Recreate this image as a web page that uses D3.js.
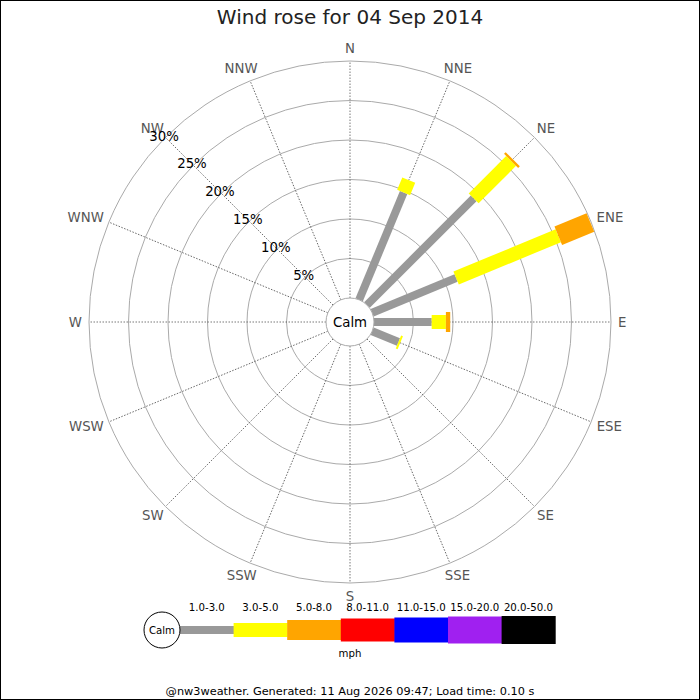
<!DOCTYPE html>
<html lang="en">

<head>
    <meta charset="UTF-8">
    <title>Wind rose</title>
    <script src="https://d3js.org/d3.v7.min.js"></script>
    <style>
        body { margin: 0; }
        text { font-family: "DejaVu Sans", sans-serif; }
    </style>
</head>

<body>
    <svg id="rose"></svg>

    <script>
        // compass points, clockwise from north
        var directions = ["N", "NNE", "NE", "ENE", "E", "ESE", "SE", "SSE",
            "S", "SSW", "SW", "WSW", "W", "WNW", "NW", "NNW"];

        // speed bins (mph) and their colours
        var speedBins = ["1.0-3.0", "3.0-5.0", "5.0-8.0", "8.0-11.0", "11.0-15.0", "15.0-20.0", "20.0-50.0"];
        var binColors = ["#999999", "#ffff00", "#ffa500", "#ff0000", "#0000ff", "#a020f0", "#000000"];

        // frequency (%) per direction, one array per speed bin
        var bin1 = [0, 14.7, 19.1, 11.5, 7.3, 3.6, 0, 0, 0, 0, 0, 0, 0, 0, 0, 0];
        var bin2 = [0, 1.7, 6.7, 14.0, 1.8, 0.25, 0, 0, 0, 0, 0, 0, 0, 0, 0, 0];
        var bin3 = [0, 0, 0.3, 4.4, 0.55, 0, 0, 0, 0, 0, 0, 0, 0, 0, 0, 0];
        var bin4 = [0, 0, 0, 0, 0, 0, 0, 0, 0, 0, 0, 0, 0, 0, 0, 0];
        var bin5 = [0, 0, 0, 0, 0, 0, 0, 0, 0, 0, 0, 0, 0, 0, 0, 0];
        var bin6 = [0, 0, 0, 0, 0, 0, 0, 0, 0, 0, 0, 0, 0, 0, 0, 0];
        var bin7 = [0, 0, 0, 0, 0, 0, 0, 0, 0, 0, 0, 0, 0, 0, 0, 0];
        var bins = [bin1, bin2, bin3, bin4, bin5, bin6, bin7];

        var ringTicks = [5, 10, 15, 20, 25, 30];

        var title = "Wind rose for 04 Sep 2014";
        var footer = "@nw3weather. Generated: 11 Aug 2026 09:47; Load time: 0.10 s";

        var W = 700, H = 700;
        var cx = 350, cy = 322;
        var calmR = 24, outerR = 261;
        var barWidths = [8, 14, 20, 23, 25, 27, 28];

        var svg = d3.select("#rose")
            .attr("width", W)
            .attr("height", H);

        svg.append("rect")
            .attr("x", 0.5).attr("y", 0.5)
            .attr("width", W - 1).attr("height", H - 1)
            .attr("fill", "white")
            .attr("stroke", "black");

        svg.append("text")
            .attr("x", cx).attr("y", 24)
            .attr("text-anchor", "middle")
            .style("font-size", "20px")
            .attr("fill", "#222")
            .text(title);

        var r = d3.scaleLinear().domain([0, 30]).range([calmR, outerR]);
        var angle = d3.scaleLinear().domain([0, 16]).range([0, 360]);

        var g = svg.append("g")
            .attr("transform", "translate(" + cx + "," + cy + ")");

        // rings
        g.selectAll(".ring")
            .data(ringTicks)
            .enter()
            .append("circle")
            .attr("r", function (d) { return r(d) })
            .attr("fill", "none")
            .attr("stroke", "#aaa")
            .attr("stroke-width", 1);

        // spokes
        g.selectAll(".spoke")
            .data(directions)
            .enter()
            .append("line")
            .attr("transform", function (d, i) { return "rotate(" + angle(i) + ")" })
            .attr("x1", 0).attr("y1", -calmR)
            .attr("x2", 0).attr("y2", -outerR)
            .attr("stroke", "#555")
            .attr("stroke-width", 0.8)
            .attr("stroke-dasharray", "1.5,1.5");

        // direction labels: box sits just outside the ring, pushed out along the spoke
        var labR = 268;
        g.selectAll(".dirLabel")
            .data(directions)
            .enter()
            .append("text")
            .attr("text-anchor", "middle")
            .attr("dominant-baseline", "central")
            .style("font-size", "13.3px")
            .attr("fill", "#555")
            .text(function (d) { return d })
            .each(function (d, i) {
                var a = angle(i) * Math.PI / 180;
                var bb = this.getBBox();
                var sx = Math.sin(a), cy_ = Math.cos(a);
                var px = labR * sx + (bb.width / 2) * sx;
                var py = -labR * cy_ - 6 * cy_;
                d3.select(this).attr("x", px).attr("y", py);
            });

        // stacked bars
        var segments = [];
        directions.forEach(function (dir, i) {
            var cum = 0;
            bins.forEach(function (b, k) {
                if (b[i] > 0) {
                    segments.push({ dir: i, bin: k, from: cum, to: cum + b[i] });
                }
                cum += b[i];
            });
        });

        g.selectAll(".seg")
            .data(segments)
            .enter()
            .append("rect")
            .attr("transform", function (d) { return "rotate(" + angle(d.dir) + ")" })
            .attr("x", function (d) { return -barWidths[d.bin] / 2 })
            .attr("y", function (d) { return -r(d.to) })
            .attr("width", function (d) { return barWidths[d.bin] })
            .attr("height", function (d) { return r(d.to) - r(d.from) })
            .attr("fill", function (d) { return binColors[d.bin] });

        // calm circle
        g.append("circle")
            .attr("r", calmR)
            .attr("fill", "white")
            .attr("stroke", "#aaa");
        g.append("text")
            .attr("text-anchor", "middle")
            .attr("dominant-baseline", "central")
            .style("font-size", "13.3px")
            .text("Calm");

        // percent labels along NW
        var nw = 315 * Math.PI / 180;
        g.selectAll(".pct")
            .data(ringTicks)
            .enter()
            .append("text")
            .attr("x", function (d) { return (r(d) + 2) * Math.sin(nw) })
            .attr("y", function (d) { return -(r(d) + 2) * Math.cos(nw) })
            .attr("text-anchor", "middle")
            .attr("dominant-baseline", "central")
            .style("font-size", "13.3px")
            .text(function (d) { return d + "%" });

        // legend
        var legY = 630, legX0 = 180, segW = 53.6;
        var lx = d3.scaleLinear().domain([0, speedBins.length]).range([legX0, legX0 + segW * speedBins.length]);

        svg.selectAll(".legBar")
            .data(speedBins)
            .enter()
            .append("rect")
            .attr("x", function (d, i) { return lx(i) })
            .attr("y", function (d, i) { return legY - barWidths[i] / 2 })
            .attr("width", segW + 0.5)
            .attr("height", function (d, i) { return barWidths[i] })
            .attr("fill", function (d, i) { return binColors[i] });

        svg.selectAll(".legText")
            .data(speedBins)
            .enter()
            .append("text")
            .attr("x", function (d, i) { return lx(i + 0.5) })
            .attr("y", 611)
            .attr("text-anchor", "middle")
            .style("font-size", "10.2px")
            .text(function (d) { return d });

        svg.append("circle")
            .attr("cx", 162).attr("cy", legY).attr("r", 18)
            .attr("fill", "white")
            .attr("stroke", "black");
        svg.append("text")
            .attr("x", 162).attr("y", legY)
            .attr("text-anchor", "middle")
            .attr("dominant-baseline", "central")
            .style("font-size", "10.2px")
            .text("Calm");

        svg.append("text")
            .attr("x", 350).attr("y", 657)
            .attr("text-anchor", "middle")
            .style("font-size", "10.2px")
            .text("mph");

        svg.append("text")
            .attr("x", 350).attr("y", 695)
            .attr("text-anchor", "middle")
            .style("font-size", "11.3px")
            .text(footer);
    </script>
</body>

</html>
